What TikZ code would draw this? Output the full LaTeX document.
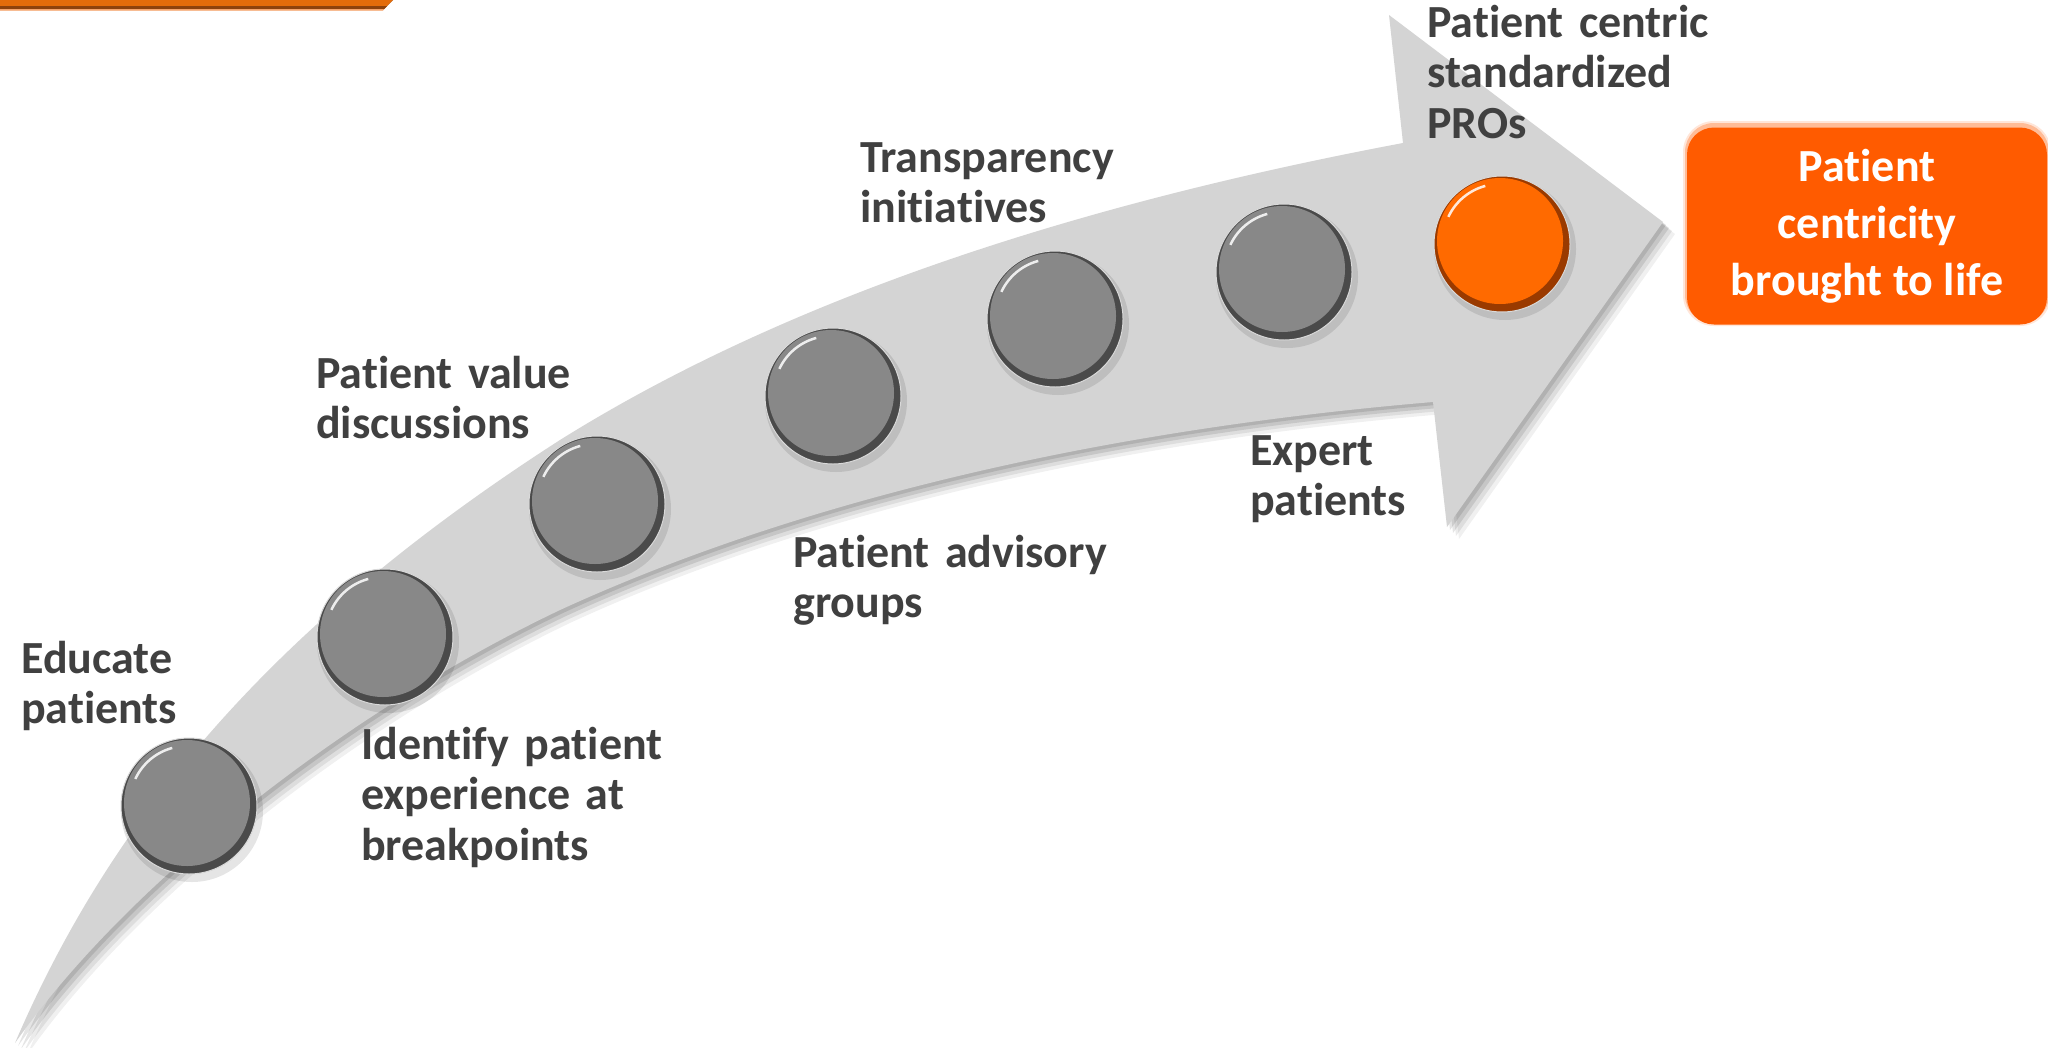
\documentclass[tikz,border=0pt]{standalone}
\usepackage{fontspec}
\setmainfont{Carlito}[Ligatures=NoCommon]
\usetikzlibrary{calc}
\definecolor{txt}{HTML}{404040}
\definecolor{band}{HTML}{D4D4D4}
\definecolor{beadgray}{HTML}{888888}
\definecolor{beadrim}{HTML}{4A4A4A}
\definecolor{beadorange}{HTML}{FF6A00}
\definecolor{beadorangerim}{HTML}{9A3A00}
\definecolor{goalorange}{HTML}{FF5B00}
\definecolor{barorange}{HTML}{E46C0A}
\definecolor{barbrown}{HTML}{8E420C}
\definecolor{barlight}{HTML}{F5A36A}
\newcommand\lblfont{\fontsize{46}{50.5}\selectfont\bfseries}
\newcommand\goalfont{\fontsize{46}{57}\selectfont\bfseries}
\newcommand\arrowshape[1]{%
  \fill[#1] (15,1043) .. controls (115,810) and (280,620) .. (560,440)
  .. controls (800,290) and (1100,200) .. (1403,143)
  -- (1389,15) -- (1663,222) -- (1447,527) -- (1433,402)
  .. controls (1100,430) and (800,500) .. (560,610)
  .. controls (350,710) and (130,880) .. (15,1043) -- cycle;}
\newcommand\bead[4]{%
  \fill[black, opacity=.10] ($(#2)+(3,5)$) circle[radius=71];
  \node[beadnode, fill=#4] (#1) at (#2) {};
  \fill[#3] ($(#2)+(-2,-3)$) circle[radius=63];
  \draw[white, line width=2.5pt, opacity=.85] ($(#2)+(-2,-3)$) ++(205:57) arc[start angle=205, end angle=255, radius=57];
}
\tikzset{
  beadnode/.style={circle, minimum size=136pt, inner sep=0pt, draw=white!70!gray, line width=1pt},
  lbl/.style={anchor=base west, inner sep=0pt, text=txt, font=\lblfont, align=left, text width=420pt},
  goal/.style={rounded corners=27pt, fill=goalorange, text=white, font=\goalfont, align=center, minimum width=360pt, minimum height=197pt, inner sep=0pt}
}
\begin{document}
\begin{tikzpicture}[x=1pt,y=-1pt]
\useasboundingbox (0,0) rectangle (2048,1047);
\fill[white] (0,0) rectangle (2048,1047);
% top-left orange bar
\fill[barorange] (0,0) -- (393,0) -- (383,10) -- (0,10) -- cycle;
\fill[barbrown] (0,6) -- (387,6) -- (384,9) -- (0,9) -- cycle;
\fill[barbrown] (387,6) -- (393,0) -- (383,10) -- (384,9) -- cycle;
\fill[barlight] (0,9) -- (384,9) -- (383,10.5) -- (0,10.5) -- cycle;
% arrow shadow and body
\arrowshape{black, opacity=.06, shift={(12,12)}}
\arrowshape{black, opacity=.08, shift={(9,9)}}
\arrowshape{black, opacity=.10, shift={(6,6)}}
\arrowshape{black, opacity=.10, shift={(3,3)}}
\arrowshape{band}
% beads
\bead{b1}{189,806}{beadgray}{beadrim}
\bead{b2}{385,637}{beadgray}{beadrim}
\bead{b3}{597,504}{beadgray}{beadrim}
\bead{b4}{833,396}{beadgray}{beadrim}
\bead{b5}{1055,319}{beadgray}{beadrim}
\bead{b6}{1284,272}{beadgray}{beadrim}
\bead{b7}{1502,244}{beadorange}{beadorangerim}
% labels
\node[lbl] (t1) at (21,673) {Educate\\patients};
\node[lbl] (t2) at (361,759) {Identify patient\\experience at\\breakpoints};
\node[lbl] (t3) at (316,388) {Patient value\\discussions};
\node[lbl] (t4) at (793,567) {Patient advisory\\groups};
\node[lbl] (t5) at (860,172) {Transparency\\initiatives};
\node[lbl] (t6) at (1250,465) {Expert\\patients};
\node[lbl] (t7) at (1427,37) {Patient centric\\standardized\\PROs};
% goal box with soft edge
\fill[goalorange, opacity=.15, rounded corners=31pt] (1683,121) rectangle (2051,326);
\fill[goalorange, opacity=.3, rounded corners=29pt] (1685,123) rectangle (2049,324);
\node[goal] (goal) at (1867,226) {Patient\\centricity\\brought to life};
\end{tikzpicture}
\end{document}
